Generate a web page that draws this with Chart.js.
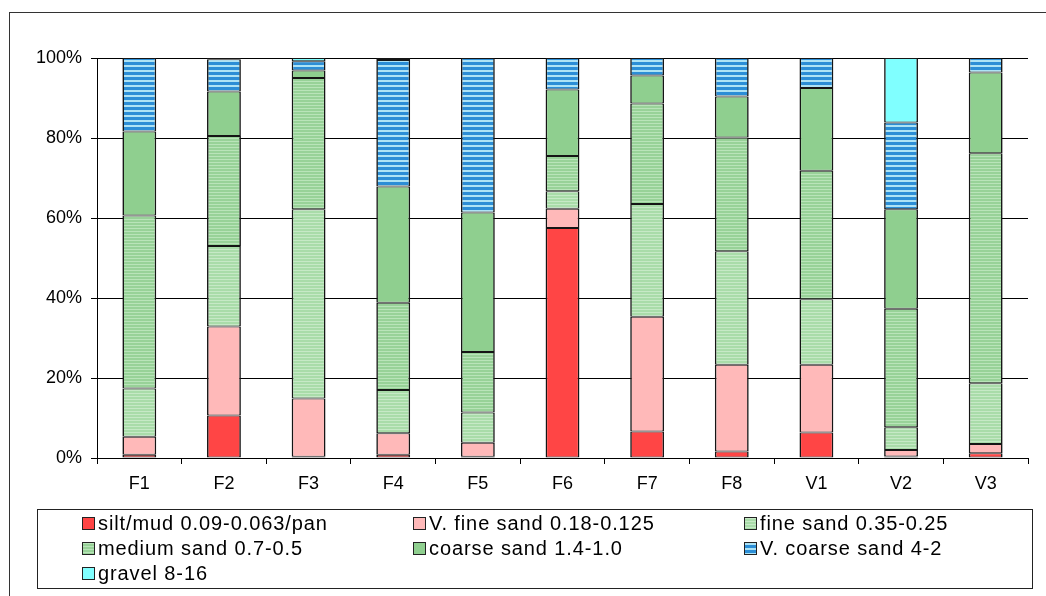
<!DOCTYPE html>
<html>
<head>
<meta charset="utf-8">
<script src="https://cdn.jsdelivr.net/npm/chart.js@4.4.1/dist/chart.umd.min.js"></script>
<style>
  body { margin: 0; background: #fff; font-family: 'Liberation Sans', Arial, sans-serif; }
  #frame { position: absolute; left: 9px; top: 12px; width: 1060px; height: 600px; border: 1.5px solid #333; }
  #wrap { position: absolute; left: 0; top: 0; width: 1046px; height: 596px; }
  #legend {
    position: absolute; left: 37px; top: 509px;
    border: 1.5px solid #222;
    display: grid; grid-template-columns: 331px 331px 331px; grid-auto-rows: 25px;
    padding: 1px 0 0 44px; box-sizing: border-box; width: 996px; height: 80px;
  }
  .item { display: flex; align-items: center; font-size: 20px; letter-spacing: 0.9px; color: #000; white-space: nowrap; }
  .sw { width: 11px; height: 11px; border: 1px solid #222; margin-right: 3px; flex: none; }
</style>
</head>
<body>
<div id="frame"></div>
<div id="wrap"><canvas id="chart"></canvas></div>
<div id="legend"></div>
<script>
// sample sites
const sites = ['F1', 'F2', 'F3', 'F4', 'F5', 'F6', 'F7', 'F8', 'V1', 'V2', 'V3'];

// grain size fractions, % of sample (bottom of stack first)
const silt    = [0.8, 10.6, 0.3, 0.8, 0.3, 57.5, 6.6, 1.6, 6.4, 0.4, 1.2];
const vFine   = [4.5, 22.3, 14.6, 5.4, 3.5, 4.8, 28.7, 21.7, 16.9, 1.6, 2.3];
const fine    = [12.1, 20.1, 47.3, 10.8, 7.6, 4.4, 28.2, 28.4, 16.4, 5.7, 15.2];
const medium  = [43.2, 27.5, 32.8, 21.8, 15.1, 8.8, 25.1, 28.4, 32.1, 29.6, 57.5];
const coarse  = [21.0, 11.1, 1.9, 29.1, 34.9, 16.6, 7.0, 10.3, 20.7, 24.9, 20.2];
const vCoarse = [18.4, 8.1, 2.3, 31.6, 38.6, 7.9, 4.4, 9.6, 7.5, 21.7, 3.6];
const gravel  = [0, 0.3, 0.8, 0.5, 0, 0, 0, 0, 0, 16.1, 0];

const seriesNames = [
  'silt/mud 0.09-0.063/pan', 'V. fine sand 0.18-0.125', 'fine sand 0.35-0.25',
  'medium sand 0.7-0.5', 'coarse sand 1.4-1.0', 'V. coarse sand 4-2', 'gravel 8-16'
];
const seriesData = [silt, vFine, fine, medium, coarse, vCoarse, gravel];
const yTicks = [0, 20, 40, 60, 80, 100];

// horizontal stripe fill, like the Excel pattern fills
function stripes(base, line, period, lineH) {
  const c = document.createElement('canvas');
  c.width = 4; c.height = period;
  const g = c.getContext('2d');
  g.fillStyle = base; g.fillRect(0, 0, 4, period);
  g.fillStyle = line; g.fillRect(0, 0, 4, lineH);
  return g.createPattern(c, 'repeat');
}

const fills = [
  '#ff4545',
  '#ffb9b9',
  stripes('#a9dca9', '#c6e9c6', 3, 1),
  stripes('#98d298', '#b9e4b9', 3, 1),
  '#8fcf8f',
  stripes('#2c8ed6', '#ade3f5', 5, 2),
  '#80ffff'
];
// css versions for the legend swatches
const swatchCss = [
  '#ff4545',
  '#ffb9b9',
  'repeating-linear-gradient(#c6e9c6 0 1px, #a9dca9 1px 3px)',
  'repeating-linear-gradient(#b9e4b9 0 1px, #98d298 1px 3px)',
  '#8fcf8f',
  'repeating-linear-gradient(#ade3f5 0 2px, #2c8ed6 2px 5px)',
  '#80ffff'
];

const font = { family: "'Liberation Sans', Arial, sans-serif", size: 18 };

const datasets = seriesNames.map((name, i) => ({
  label: name,
  data: seriesData[i],
  backgroundColor: fills[i],
  borderColor: '#151515',
  borderWidth: { left: 1.6, right: 1.6, top: 1, bottom: 1 },
  borderSkipped: false,
  inflateAmount: 0,
  barPercentage: 0.4,
  categoryPercentage: 1
}));

const chart = new Chart(document.getElementById('chart'), {
  type: 'bar',
  data: { labels: sites, datasets },
  options: {
    responsive: true,
    maintainAspectRatio: false,
    animation: false,
    layout: { padding: { top: 58, right: 18, left: 0, bottom: 0 } },
    plugins: { legend: { display: false }, tooltip: { enabled: false } },
    scales: {
      x: {
        stacked: true,
        afterFit: s => { s.height = 138; },
        grid: { display: true, drawOnChartArea: false, offset: true, color: '#000', tickLength: 6 },
        border: { display: true, color: '#000', width: 1 },
        ticks: { color: '#000', font, padding: 9 }
      },
      y: {
        stacked: true,
        min: 0,
        max: 100,
        afterFit: s => { s.width = 97; },
        afterBuildTicks: s => { s.ticks = yTicks.map(v => ({ value: v })); },
        grid: { color: '#000', lineWidth: 1, tickLength: 6 },
        border: { display: true, color: '#000', width: 1 },
        ticks: { color: '#000', font, padding: 9, callback: v => v + '%' }
      }
    }
  }
});

// legend laid out in three columns, as in the original
const legendDiv = document.getElementById('legend');
chart.data.datasets.forEach((ds, i) => {
  const item = document.createElement('div');
  item.className = 'item';
  item.innerHTML = `<span class="sw" style="background:${swatchCss[i]}"></span>${ds.label}`;
  legendDiv.appendChild(item);
});
</script>
</body>
</html>
